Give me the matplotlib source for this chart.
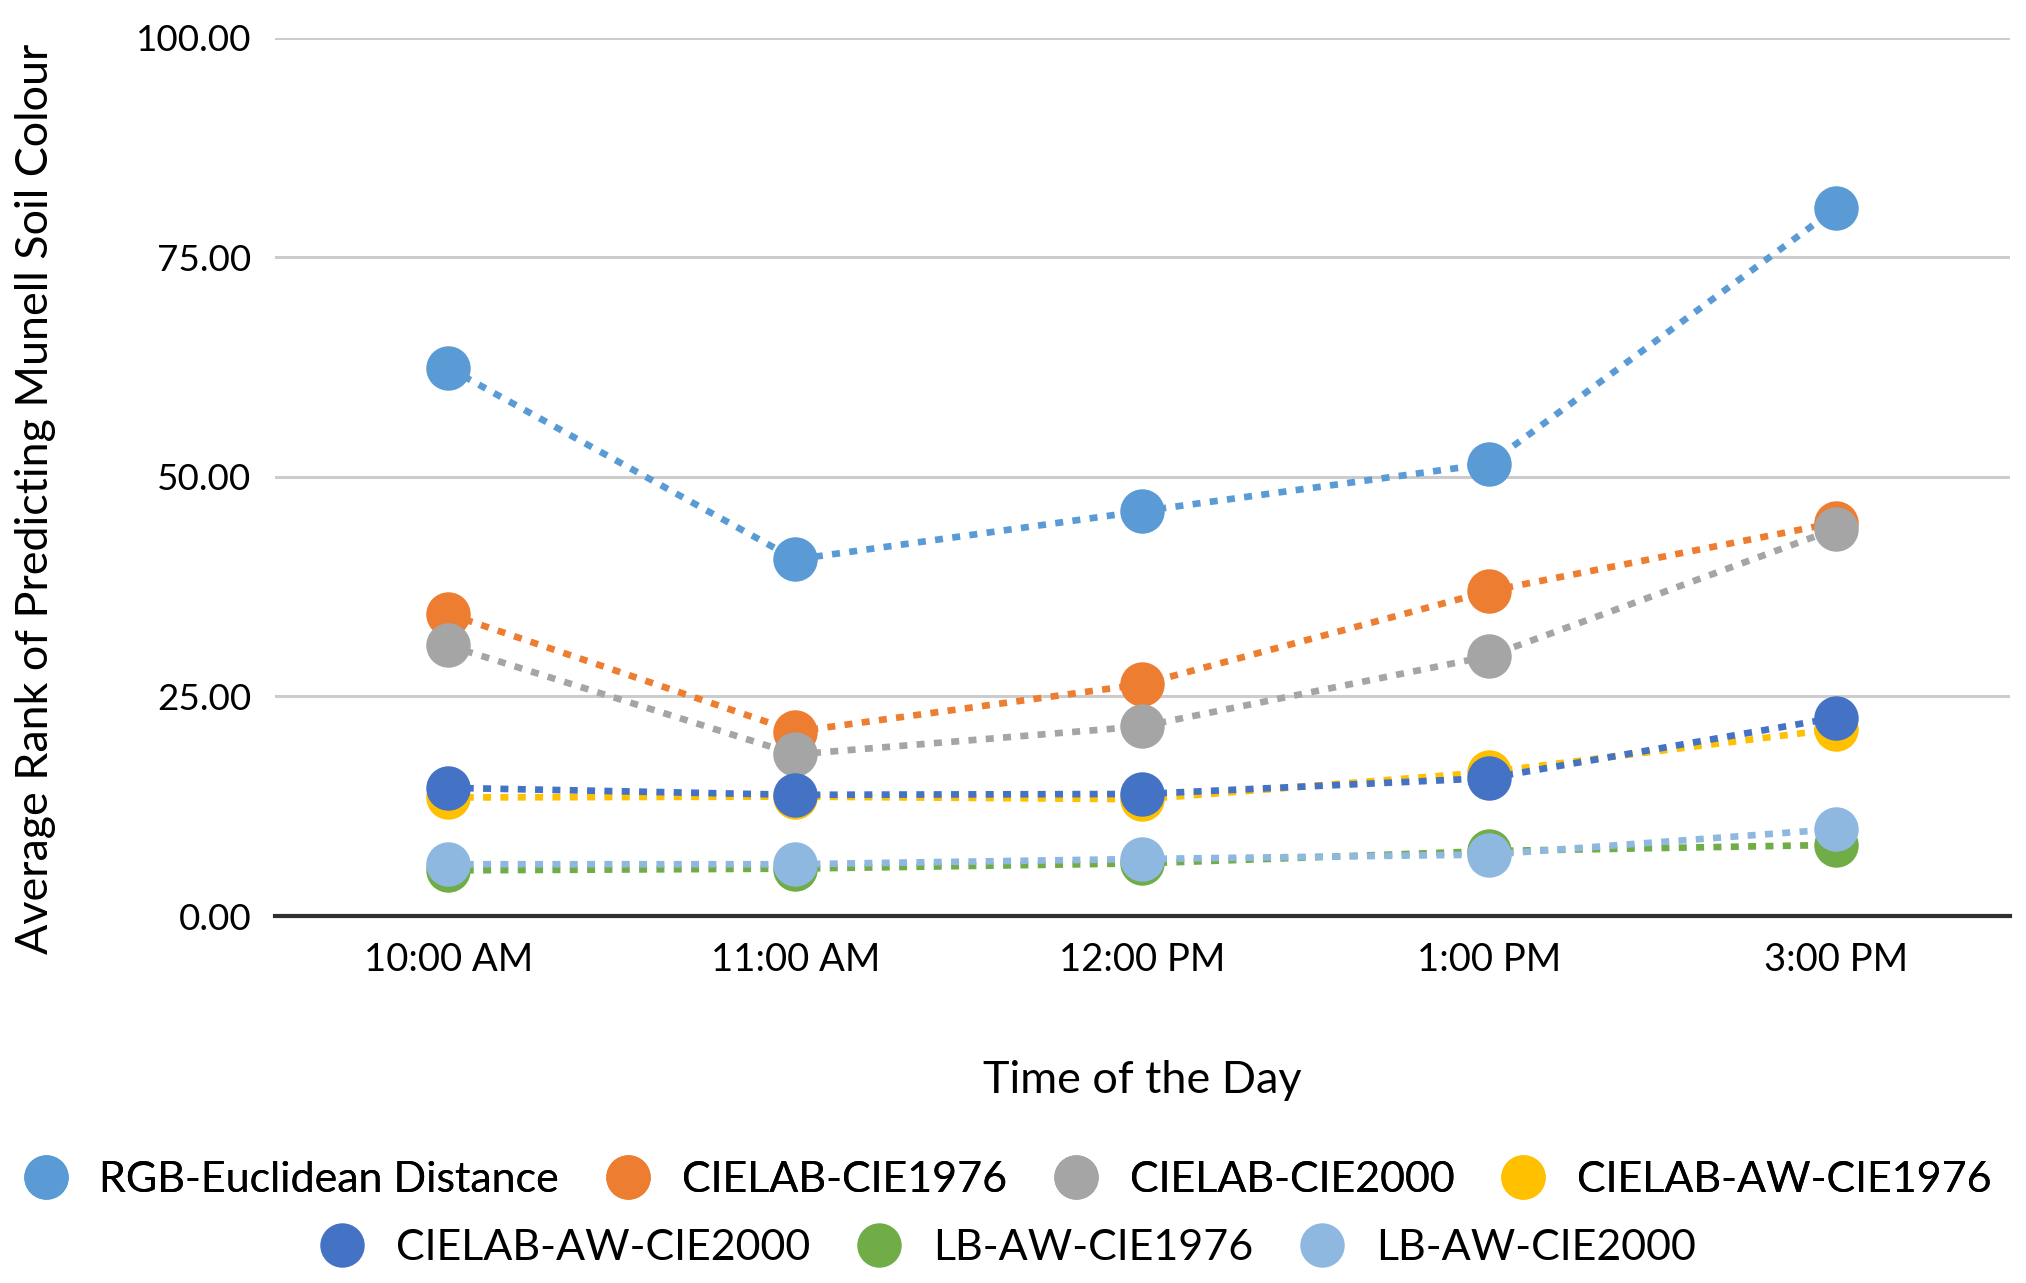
#!/usr/bin/env python3

# imports
import matplotlib
matplotlib.use('Agg')
import matplotlib.pyplot as plt
from matplotlib.lines import Line2D

# data
times = ['10:00 AM', '11:00 AM', '12:00 PM', '1:00 PM', '3:00 PM']
series_names = ['RGB-Euclidean Distance', 'CIELAB-CIE1976', 'CIELAB-CIE2000',
                'CIELAB-AW-CIE1976', 'CIELAB-AW-CIE2000', 'LB-AW-CIE1976', 'LB-AW-CIE2000']
rgb_euclidean = [62.4, 40.6, 46.1, 51.5, 80.6]
cielab_1976 = [34.4, 21.0, 26.4, 37.0, 44.8]
cielab_2000 = [30.8, 18.4, 21.6, 29.6, 44.1]
cielab_aw_1976 = [13.5, 13.6, 13.3, 16.4, 21.3]
cielab_aw_2000 = [14.6, 13.8, 13.9, 15.7, 22.6]
lb_aw_1976 = [5.2, 5.4, 6.0, 7.4, 8.1]
lb_aw_2000 = [5.9, 5.9, 6.5, 7.0, 9.9]
colors = ['#5B9BD5', '#ED7D31', '#A5A5A5', '#FFC000', '#4472C4', '#70AD47', '#8FB8E0']

all_series = [rgb_euclidean, cielab_1976, cielab_2000, cielab_aw_1976,
              cielab_aw_2000, lb_aw_1976, lb_aw_2000]

plt.rcParams['font.family'] = ['Lato', 'DejaVu Sans']

fig = plt.figure(figsize=(20.26, 12.83), dpi=100)
ax = fig.add_axes([0.1357, 0.286, 0.992 - 0.1357, 0.9707 - 0.286])

x = list(range(len(times)))
for name, values, c in zip(series_names, all_series, colors):
    ax.plot(x, values, color=c, linestyle=(0, (1.2, 1.4)), linewidth=4.8,
            marker='o', markersize=32, markeredgewidth=0, label=name, clip_on=False)

# axes styling
ax.set_xlim(-0.5, 4.5)
ax.set_ylim(0, 100)
ax.set_yticks([0, 25, 50, 75, 100])
ax.set_yticklabels(['%.2f' % v for v in [0, 25, 50, 75, 100]])
ax.set_xticks(x)
ax.set_xticklabels(times)
ax.tick_params(axis='y', length=0, labelsize=26.5, pad=17)
ax.tick_params(axis='x', length=0, labelsize=27.5, pad=19)
ax.grid(axis='y', color='#CCCCCC', linewidth=2.2)
ax.set_axisbelow(True)
for side in ['top', 'right', 'left']:
    ax.spines[side].set_visible(False)
ax.spines['bottom'].set_color('#303030')
ax.spines['bottom'].set_linewidth(3)
ax.spines['bottom'].set_zorder(1.5)

ax.set_xlabel('Time of the Day', fontsize=32.4)
ax.xaxis.set_label_coords(0.5, -0.187)
ax.xaxis.label.set_va('center')
ax.set_ylabel('Average Rank of Predicting Munell Soil Colour', fontsize=32.3)
ax.yaxis.set_label_coords(-0.138, 0.475)
ax.yaxis.label.set_va('center')
ax.yaxis.label.set_ha('center')

# legend in two centred rows like Excel
handles = [Line2D([], [], color=c, marker='o', markersize=32, markeredgewidth=0, linestyle='none')
           for c in colors]
leg1 = fig.legend(handles[:4], series_names[:4], loc='center', bbox_to_anchor=(0.4975, 0.0803),
                  ncol=4, frameon=False, fontsize=31, handletextpad=0.75, columnspacing=1.1,
                  handlelength=1.0)
leg2 = fig.legend(handles[4:], series_names[4:], loc='center', bbox_to_anchor=(0.4975, 0.0273),
                  ncol=3, frameon=False, fontsize=31, handletextpad=0.75, columnspacing=1.1,
                  handlelength=1.0)
fig.add_artist(leg1)

plt.savefig('out.png', dpi=100)
